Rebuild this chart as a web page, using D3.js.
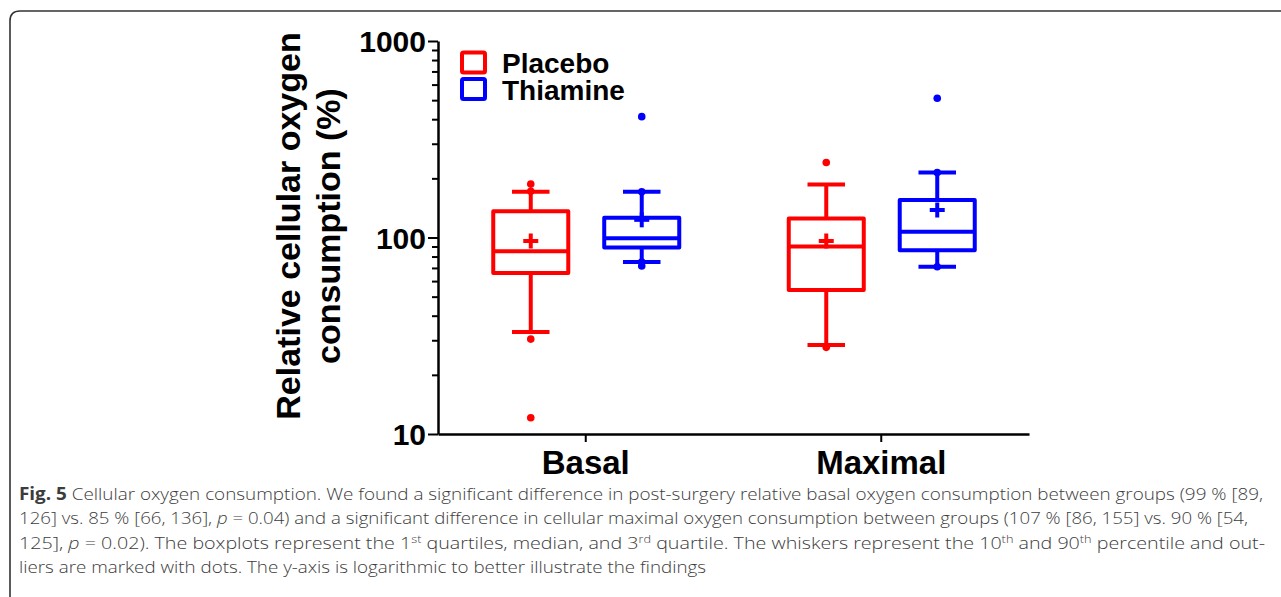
<!DOCTYPE html>
<html><head><meta charset="utf-8">
<script src="https://cdn.jsdelivr.net/npm/d3@7"></script>
<style>
html,body{margin:0;padding:0;background:#fff;}
svg{display:block;}
</style></head>
<body>
<svg id="chart" width="1281" height="597"></svg>
<script>
// ---- data ----
const categories = ["Basal", "Maximal"];
const groups = ["Placebo", "Thiamine"];
const groupColors = ["#ff0000", "#0000ff"];
const yTickLabels = ["10", "100", "1000"];

// Placebo (per category)
const placeboLow    = [33, 28.4];
const placeboQ1     = [66, 54];
const placeboMedian = [85, 90];
const placeboQ3     = [136, 125];
const placeboHigh   = [171, 186];
const placeboMean   = [96, 96];
const placeboOutliers = [[187, 172, 30.4, 12.1], [241, 27.6]];

// Thiamine (per category)
const thiamineLow    = [75, 71];
const thiamineQ1     = [89, 86];
const thiamineMedian = [99, 107];
const thiamineQ3     = [126, 155];
const thiamineHigh   = [171, 214];
const thiamineMean   = [123, 138];
const thiamineOutliers = [[412, 171, 75, 71.6], [511, 214, 71]];

const yLabelLines = ["Relative cellular oxygen", "consumption (%)"];

// ---- layout ----
const svg = d3.select("#chart");
const plotL = 438, plotR = 1029, plotT = 41, plotB = 434;
const x = d3.scaleBand().domain(categories).range([plotL, plotR]).padding(0);
const xg = d3.scaleBand().domain(groups).range([-92.5, 93.5]).paddingInner(0.324).paddingOuter(0);
const y = d3.scaleLog().domain([10, 1000]).range([plotB, plotT]);

// frame
svg.append("path")
  .attr("d", "M10,700 L10,21 Q10,11 20,11 L1300,11")
  .attr("fill", "none").attr("stroke", "#333").attr("stroke-width", 1.6);

// y axis
const yTicks = [];
for (let d = 10; d <= 1000; d *= 10) {
  for (let m = 1; m <= 9; m++) { const v = d * m; if (v <= 1000) yTicks.push(v); }
}
const yAxis = d3.axisLeft(y).tickValues(yTicks).tickSize(0)
  .tickFormat(v => { const i = [10,100,1000].indexOf(v); return i >= 0 ? yTickLabels[i] : ""; });
const gy = svg.append("g").attr("transform", `translate(${plotL},0)`).call(yAxis);
gy.select(".domain").attr("stroke", "#000").attr("stroke-width", 2.5);
gy.selectAll(".tick line")
  .attr("x2", v => [10,100,1000].includes(v) ? -10 : -6)
  .attr("stroke", "#000").attr("stroke-width", 2);
gy.selectAll(".tick text")
  .attr("x", -12).attr("dy", "0.36em")
  .style("font-family", "'Liberation Sans', Arial, sans-serif")
  .style("font-weight", "bold").style("font-size", "30px").attr("fill", "#000");

// x axis
const xAxis = d3.axisBottom(x).tickSize(8).tickSizeOuter(0);
const gx = svg.append("g").attr("transform", `translate(0,${plotB})`).call(xAxis);
gx.select(".domain").attr("stroke", "#000").attr("stroke-width", 2.5);
gx.selectAll(".tick line").attr("stroke", "#000").attr("stroke-width", 2);
gx.selectAll(".tick text")
  .attr("y", 10).attr("dy", "0.9em")
  .style("font-family", "'Liberation Sans', Arial, sans-serif")
  .style("font-weight", "bold").style("font-size", "33px").attr("fill", "#000");

// y label
const yl = svg.append("text")
  .attr("transform", "translate(0,226) rotate(-90)")
  .attr("text-anchor", "middle")
  .style("font-family", "'Liberation Sans', Arial, sans-serif")
  .style("font-weight", "bold").style("font-size", "34px").attr("fill", "#000");
yl.append("tspan").attr("x", 0).attr("y", 300).text(yLabelLines[0]);
yl.append("tspan").attr("x", 0).attr("y", 340).text(yLabelLines[1]);

// boxes
const series = [
  {low: placeboLow, q1: placeboQ1, med: placeboMedian, q3: placeboQ3, high: placeboHigh, mean: placeboMean, out: placeboOutliers},
  {low: thiamineLow, q1: thiamineQ1, med: thiamineMedian, q3: thiamineQ3, high: thiamineHigh, mean: thiamineMean, out: thiamineOutliers}
];
const boxW = xg.bandwidth();
const capW = boxW / 2;
const sw = 4;
series.forEach((s, gi) => {
  const col = groupColors[gi];
  categories.forEach((c, ci) => {
    const cx = x(c) + x.bandwidth() / 2 + xg(groups[gi]) + boxW / 2;
    const g = svg.append("g").attr("stroke", col).attr("stroke-width", sw).attr("fill", "none")
      .attr("stroke-linejoin", "round");
    g.append("line").attr("x1", cx).attr("x2", cx).attr("y1", y(s.q3[ci])).attr("y2", y(s.high[ci]));
    g.append("line").attr("x1", cx).attr("x2", cx).attr("y1", y(s.q1[ci])).attr("y2", y(s.low[ci]));
    g.append("line").attr("x1", cx - capW/2).attr("x2", cx + capW/2).attr("y1", y(s.high[ci])).attr("y2", y(s.high[ci]));
    g.append("line").attr("x1", cx - capW/2).attr("x2", cx + capW/2).attr("y1", y(s.low[ci])).attr("y2", y(s.low[ci]));
    g.append("rect").attr("x", cx - boxW/2).attr("width", boxW)
      .attr("y", y(s.q3[ci])).attr("height", y(s.q1[ci]) - y(s.q3[ci])).attr("fill", "#fff");
    g.append("line").attr("x1", cx - boxW/2).attr("x2", cx + boxW/2).attr("y1", y(s.med[ci])).attr("y2", y(s.med[ci]));
    const my = y(s.mean[ci]);
    g.append("line").attr("x1", cx - 7.5).attr("x2", cx + 7.5).attr("y1", my).attr("y2", my);
    g.append("line").attr("x1", cx).attr("x2", cx).attr("y1", my - 7.5).attr("y2", my + 7.5);
    svg.append("g").selectAll("circle").data(s.out[ci]).join("circle")
      .attr("cx", cx).attr("cy", v => y(v)).attr("r", 3.8).attr("fill", col);
  });
});

// legend
const lg = svg.append("g");
groups.forEach((gname, i) => {
  lg.append("rect").attr("x", 462).attr("y", 52.5 + i * 26.5).attr("width", 23).attr("height", 20)
    .attr("fill", "none").attr("stroke", groupColors[i]).attr("stroke-width", 4).attr("rx", 1.5);
  lg.append("text").attr("x", 502).attr("y", 73 + i * 26.5).text(gname)
    .style("font-family", "'Liberation Sans', Arial, sans-serif")
    .style("font-weight", "bold").style("font-size", "28px").attr("fill", "#000");
});

// caption
const capLines = [
  [{t:"Fig. 5", b:1}, {t:" Cellular oxygen consumption. We found a significant difference in post-surgery relative basal oxygen consumption between groups (99 % [89,"}],
  [{t:"126] vs. 85 % [66, 136], "}, {t:"p", i:1}, {t:" = 0.04) and a significant difference in cellular maximal oxygen consumption between groups (107 % [86, 155] vs. 90 % [54,"}],
  [{t:"125], "}, {t:"p", i:1}, {t:" = 0.02). The boxplots represent the 1"}, {t:"st", s:1}, {t:" quartiles, median, and 3"}, {t:"rd", s:1}, {t:" quartile. The whiskers represent the 10"}, {t:"th", s:1}, {t:" and 90"}, {t:"th", s:1}, {t:" percentile and out-"}],
  [{t:"liers are marked with dots. The y-axis is logarithmic to better illustrate the findings"}]
];
const capWidths = [1244, 1229, 1246, 687];
capLines.forEach((parts, li) => {
  const t = svg.append("text").attr("x", 19).attr("y", 500 + li * 24.4)
    .style("font-family", "'Open Sans', 'Noto Sans', sans-serif")
    .style("font-size", "17px").style("font-weight", 300).attr("fill", "#3c3c3c")
    .attr("textLength", capWidths[li]).attr("lengthAdjust", "spacingAndGlyphs");
  let shifted = false;
  parts.forEach(p => {
    const ts = t.append("tspan").text(p.t);
    if (p.b) ts.style("font-weight", "bold");
    if (p.i) ts.style("font-style", "italic");
    if (p.s) { ts.attr("dy", -6).style("font-size", "11px"); shifted = true; }
    else if (shifted) { ts.attr("dy", 6); shifted = false; }
  });
});
</script>
</body></html>
